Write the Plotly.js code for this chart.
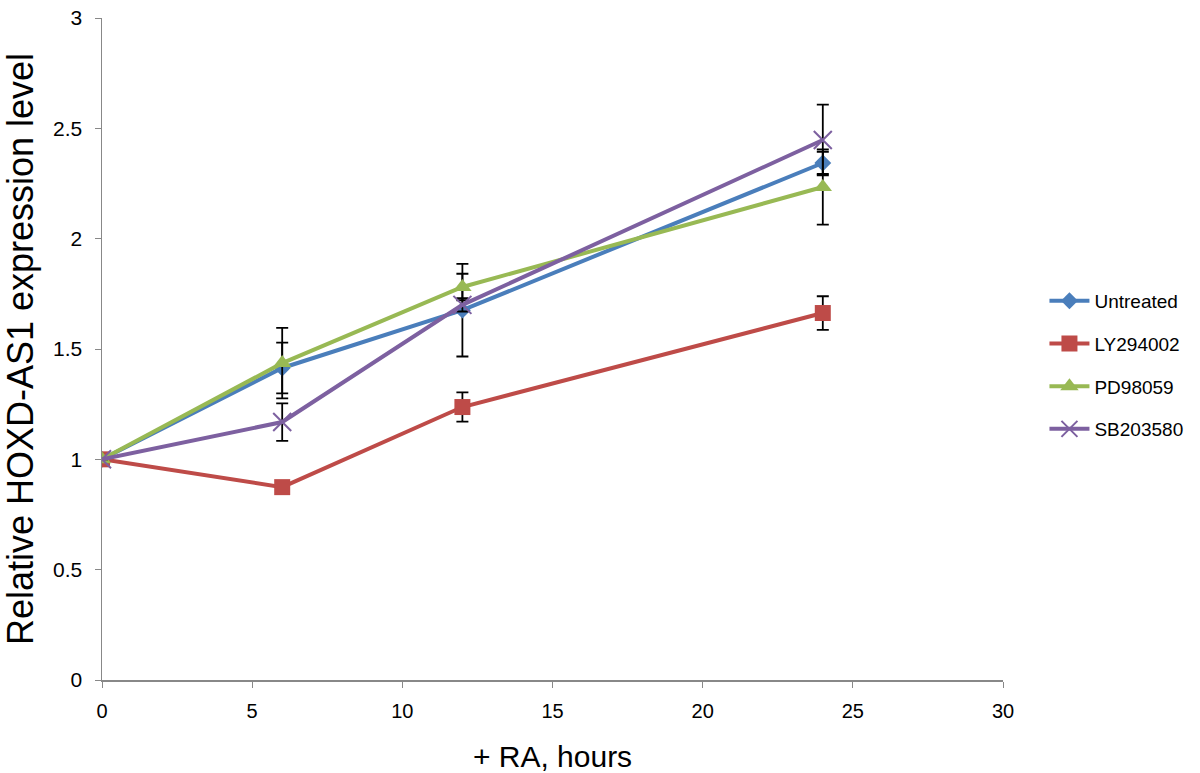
<!DOCTYPE html>
<html>
<head>
<meta charset="utf-8">
<script src="https://cdn.plot.ly/plotly-3.0.1.min.js"></script>
<style>html,body{margin:0;padding:0;background:#fff;}#chart{width:1200px;height:773px;}</style>
</head>
<body>
<div id="chart"></div>
<script>
const hours = [0, 6, 12, 24];
const seriesNames = ["Untreated", "LY294002", "PD98059", "SB203580"];
const untreated = [1, 1.414, 1.676, 2.343];
const untreatedErr = [0, 0.115, 0.21, 0.05];
const ly294002 = [1, 0.874, 1.237, 1.663];
const ly294002Err = [0, 0, 0.066, 0.076];
const pd98059 = [1, 1.436, 1.781, 2.234];
const pd98059Err = [0, 0.16, 0.06, 0.17];
const sb203580 = [1, 1.169, 1.70, 2.447];
const sb203580Err = [0, 0.085, 0.03, 0.16];
const xTicks = [0, 5, 10, 15, 20, 25, 30];
const yTicks = [0, 0.5, 1, 1.5, 2, 2.5, 3];

const colors = ["#4A7EBB", "#BE4B48", "#98B954", "#7D60A0"];
const symbols = ["diamond", "square", "triangle-up", "x-thin-open"];
const sizes = [13, 16, 16, 18];
const vals = [untreated, ly294002, pd98059, sb203580];
const errs = [untreatedErr, ly294002Err, pd98059Err, sb203580Err];

const traces = vals.map((v, i) => ({
  x: hours, y: v, name: seriesNames[i], legendgroup: "g" + i, type: "scatter", mode: "lines+markers",
  line: {color: colors[i], width: 4},
  marker: {symbol: symbols[i], size: sizes[i], color: colors[i], line: {color: colors[i], width: i === 3 ? 2 : 0}},
  error_y: {type: "data", array: errs[i], visible: true, color: "#000", thickness: 1.8, width: 6}
}));

const font = "Liberation Sans, Arial, sans-serif";
const layout = {
  width: 1200, height: 773,
  margin: {l: 102, r: 194, t: 18, b: 93},
  paper_bgcolor: "#fff", plot_bgcolor: "#fff",
  showlegend: true,
  legend: {x: 1.046, xanchor: "left", y: 0.476, yanchor: "middle", font: {family: font, size: 19, color: "#000"}, itemwidth: 40, tracegroupgap: 15},
  xaxis: {
    range: [0, 30], tickvals: xTicks, ticktext: xTicks.map(String),
    showgrid: false, zeroline: false, showline: true, linecolor: "#888", linewidth: 1.5,
    ticks: "outside", ticklen: 6, tickcolor: "#888", ticklabelstandoff: 6,
    tickfont: {family: font, size: 20, color: "#000"},
    title: {text: "+ RA, hours", font: {family: font, size: 30, color: "#000"}, standoff: 26}
  },
  yaxis: {
    range: [0, 3], tickvals: yTicks, ticktext: yTicks.map(String),
    showgrid: false, zeroline: false, showline: true, linecolor: "#888", linewidth: 1.5,
    ticks: "outside", ticklen: 6, tickcolor: "#888", ticklabelstandoff: 8,
    tickfont: {family: font, size: 21, color: "#000"},
    title: {text: "Relative HOXD-AS1 expression level", font: {family: font, size: 36, color: "#000"}, standoff: 13}
  }
};
Plotly.newPlot("chart", traces, layout, {displayModeBar: false, staticPlot: true});
</script>
</body>
</html>
